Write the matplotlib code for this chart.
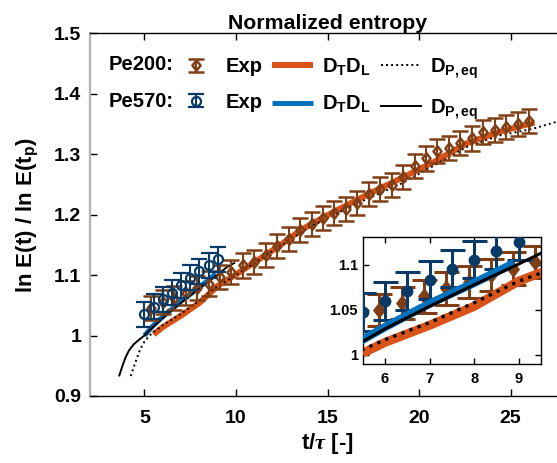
import matplotlib
matplotlib.use('Agg')
import matplotlib.pyplot as plt
from matplotlib.path import Path
from matplotlib.container import ErrorbarContainer
from matplotlib.legend_handler import HandlerErrorbar

plt.rcParams['font.family'] = ['Liberation Sans', 'DejaVu Sans']
plt.rcParams['font.weight'] = 'bold'
plt.rcParams['mathtext.fontset'] = 'custom'
plt.rcParams['mathtext.rm'] = 'Liberation Sans:bold'
plt.rcParams['mathtext.bf'] = 'Liberation Sans:bold'
plt.rcParams['mathtext.it'] = 'Liberation Serif:italic'
plt.rcParams['mathtext.default'] = 'bf'

# ---------------- data ----------------
# Pe200 experiment (main panel)
pe200_x = [5.375, 6.0, 6.625, 7.25, 7.875, 8.5, 9.125, 9.75, 10.375, 11.0,
           11.625, 12.25, 12.875, 13.5, 14.125, 14.75, 15.375, 16.0, 16.625, 17.25,
           17.875, 18.5, 19.125, 19.75, 20.375, 21.0, 21.625, 22.25, 22.875, 23.5,
           24.125, 24.75, 25.375, 26.0]
pe200_y = [1.045, 1.055, 1.062, 1.070, 1.078, 1.086, 1.097, 1.105, 1.116, 1.122,
           1.133, 1.148, 1.160, 1.174, 1.185, 1.195, 1.203, 1.210, 1.219, 1.234,
           1.243, 1.249, 1.262, 1.280, 1.293, 1.305, 1.310, 1.318, 1.326, 1.337,
           1.340, 1.345, 1.350, 1.355]
pe200_err = [0.02, 0.02, 0.02, 0.02, 0.02, 0.02, 0.02, 0.02, 0.02, 0.02,
             0.02, 0.02, 0.02, 0.02, 0.02, 0.02, 0.02, 0.02, 0.02, 0.02,
             0.02, 0.02, 0.02, 0.02, 0.02, 0.02, 0.02, 0.02, 0.02, 0.02,
             0.02, 0.02, 0.02, 0.02]
# Pe200 experiment (inset sampling)
pe200_in_x = [5.875, 6.375, 6.875, 7.375, 7.875, 8.375, 8.875, 9.375]
pe200_in_y = [1.050, 1.058, 1.065, 1.074, 1.081, 1.089, 1.096, 1.103]
pe200_in_err = [0.018, 0.018, 0.018, 0.018, 0.018, 0.018, 0.018, 0.018]

# Pe570 experiment
pe570_x = [5.0, 5.5, 6.0, 6.5, 7.0, 7.5, 8.0, 8.5, 9.0]
pe570_y = [1.035, 1.048, 1.060, 1.071, 1.083, 1.096, 1.106, 1.116, 1.126]
pe570_err = [0.021, 0.021, 0.021, 0.021, 0.021, 0.021, 0.021, 0.021, 0.021]

# Models
dtdl200_x = [5.5, 6.0, 7.0, 8.0, 9.0, 10.0, 11.0, 12.0, 13.0, 13.5, 15.3, 17.1,
             19.0, 20.8, 22.6, 24.4, 26.0, 26.3]
dtdl200_y = [1.002, 1.014, 1.033, 1.054, 1.082, 1.101, 1.121, 1.141, 1.162, 1.174,
             1.204, 1.232, 1.260, 1.287, 1.318, 1.337, 1.350, 1.352]
peq200_x = [4.25, 4.5, 4.75, 5.0, 5.25, 5.5, 6.0, 7.0, 8.0, 9.0, 10.0, 12.0,
            14.0, 15.3, 17.1, 19.0, 20.8, 22.6, 24.4, 26.2, 28.0]
peq200_y = [0.933, 0.955, 0.976, 0.990, 0.999, 1.006, 1.017, 1.036, 1.058, 1.082,
            1.100, 1.140, 1.179, 1.199, 1.225, 1.251, 1.281, 1.312, 1.331, 1.342, 1.358]
dtdl570_x = [5.0, 5.5, 6.0, 7.0, 8.0, 8.9]
dtdl570_y = [1.000, 1.017, 1.031, 1.057, 1.080, 1.102]
peq570_x = [3.63, 3.8, 3.97, 4.15, 4.4, 4.7, 5.0, 5.25, 5.5, 6.0, 7.0, 8.0, 9.0, 9.5, 9.9]
peq570_y = [0.934, 0.950, 0.964, 0.975, 0.985, 0.993, 1.000, 1.008, 1.015, 1.029,
            1.054, 1.078, 1.101, 1.113, 1.120]

xticks = [5, 10, 15, 20, 25]
yticks = [0.9, 1.0, 1.1, 1.2, 1.3, 1.4, 1.5]
ytick_labels = ['0.9', '1', '1.1', '1.2', '1.3', '1.4', '1.5']
in_xticks = [6, 7, 8, 9]
in_yticks = [1.0, 1.05, 1.1]
in_ytick_labels = ['1', '1.05', '1.1']

BROWN = '#7f3e14'
NAVY = '#073a66'
ORANGE = '#D95319'
BLUE = '#0072BD'

diamond = Path([(0, 1), (0.78, 0), (0, -1), (-0.78, 0), (0, 1)],
               [Path.MOVETO, Path.LINETO, Path.LINETO, Path.LINETO, Path.CLOSEPOLY])

W, H = 557, 463
fig = plt.figure(figsize=(W / 100, H / 100), dpi=100)

ax = fig.add_axes([89.5 / W, 1 - 396 / H, (565.6 - 89.5) / W, (396 - 33.3) / H])
ax.set_xlim(2, 28)
ax.set_ylim(0.9, 1.5)

l_or, = ax.plot(dtdl200_x, dtdl200_y, color=ORANGE, lw=4.3, zorder=2, solid_capstyle='butt')
l_bl, = ax.plot(dtdl570_x, dtdl570_y, color=BLUE, lw=3.6, zorder=2, solid_capstyle='butt')
l_dot, = ax.plot(peq200_x, peq200_y, color='black', lw=1.4, ls=(0, (1, 1.6)), zorder=3)
l_sol, = ax.plot(peq570_x, peq570_y, color='black', lw=1.4, zorder=3)

eb200 = ax.errorbar(pe200_x, pe200_y, yerr=pe200_err, fmt='', ls='none', marker=diamond,
                    ms=7.5, mfc='none', mec=BROWN, mew=1.8, ecolor=BROWN,
                    elinewidth=1.5, capsize=5.5, capthick=1.5, zorder=4)
eb570 = ax.errorbar(pe570_x, pe570_y, yerr=pe570_err, fmt='', ls='none', marker='o',
                    ms=6.5, mfc='none', mec=NAVY, mew=1.6, ecolor=NAVY,
                    elinewidth=1.5, capsize=5.5, capthick=1.5, zorder=5)

ax.set_xticks(xticks)
ax.set_yticks(yticks)
ax.set_yticklabels(ytick_labels)
ax.tick_params(direction='in', length=5, width=1, top=True, right=False,
               labelsize=14, colors='black')
ax.tick_params(axis='x', pad=10)
ax.tick_params(axis='y', pad=6)
for lab in ax.get_xticklabels() + ax.get_yticklabels():
    lab.set_fontweight('bold')
ax.spines['left'].set_color('#b3b3b3')
ax.spines['left'].set_linewidth(1.6)
ax.spines['right'].set_visible(False)
ax.spines['top'].set_linewidth(1.0)
ax.spines['bottom'].set_linewidth(1.0)

ax.set_title('Normalized entropy', fontsize=15.3, fontweight='bold', pad=3, x=0.501)
ax.set_xlabel(r't/$\mathit{\tau}$ [-]', fontsize=16, fontweight='bold', labelpad=3)
ax.set_ylabel(r'ln E(t) / ln E(t$_\mathregular{p}$)', fontsize=16, fontweight='bold', labelpad=9)

handles = [eb200, eb570, l_or, l_bl, l_dot, l_sol]
labels = ['Exp', 'Exp', r'D$_\mathregular{T}$D$_\mathregular{L}$',
          r'D$_\mathregular{T}$D$_\mathregular{L}$',
          r'D$_\mathregular{P,eq}$', r'D$_\mathregular{P,eq}$']
leg = fig.legend(handles, labels, ncol=3, loc='upper left',
                 bbox_to_anchor=(176 / W, 1 - 56 / H), frameon=False,
                 fontsize=14.5, handlelength=2.0, handletextpad=0.45,
                 columnspacing=0.5, labelspacing=0.82, borderpad=0, borderaxespad=0,
                 handler_map={ErrorbarContainer: HandlerErrorbar(xerr_size=0.3, yerr_size=0.32)})
for t in leg.get_texts():
    t.set_fontweight('bold')
fig.text(109 / W, 1 - 64 / H, 'Pe200:', fontsize=14.5, fontweight='bold', va='center', ha='left')
fig.text(109 / W, 1 - 101 / H, 'Pe570:', fontsize=14.5, fontweight='bold', va='center', ha='left')

# ---------------- inset ----------------
ins = fig.add_axes([362.7 / W, 1 - 364 / H, (541 - 362.7) / W, (364 - 237) / H])
ins.set_xlim(5.5, 9.5)
ins.set_ylim(0.99, 1.131)
ins.errorbar(pe200_in_x, pe200_in_y, yerr=pe200_in_err, fmt='', ls='none', marker=diamond,
             ms=10.5, mfc=BROWN, mec=BROWN, ecolor=BROWN, elinewidth=2.2, capsize=9,
             capthick=2.2, zorder=2)
ins.errorbar(pe570_x, pe570_y, yerr=pe570_err, fmt='', ls='none', marker='o', ms=7.5,
             mfc=NAVY, mec=NAVY, ecolor=NAVY, elinewidth=2.2, capsize=9, capthick=2.2,
             zorder=3)
ins.plot(dtdl200_x, dtdl200_y, color=ORANGE, lw=6.5, zorder=4, solid_capstyle='butt')
ins.plot(dtdl570_x, dtdl570_y, color=BLUE, lw=6, zorder=4, solid_capstyle='butt')
ins.plot(peq200_x, peq200_y, color='black', lw=2.4, ls=(0, (1, 1.6)), zorder=5)
ins.plot(peq570_x, peq570_y, color='black', lw=2.2, zorder=5)
ins.set_xticks(in_xticks)
ins.set_yticks(in_yticks)
ins.set_yticklabels(in_ytick_labels)
ins.tick_params(direction='in', length=4, width=1, top=True, right=True, labelsize=10.5)
ins.tick_params(axis='x', pad=6)
for lab in ins.get_xticklabels() + ins.get_yticklabels():
    lab.set_fontweight('bold')
for s in ins.spines.values():
    s.set_linewidth(1.0)

fig.savefig('out.png', dpi=100)
